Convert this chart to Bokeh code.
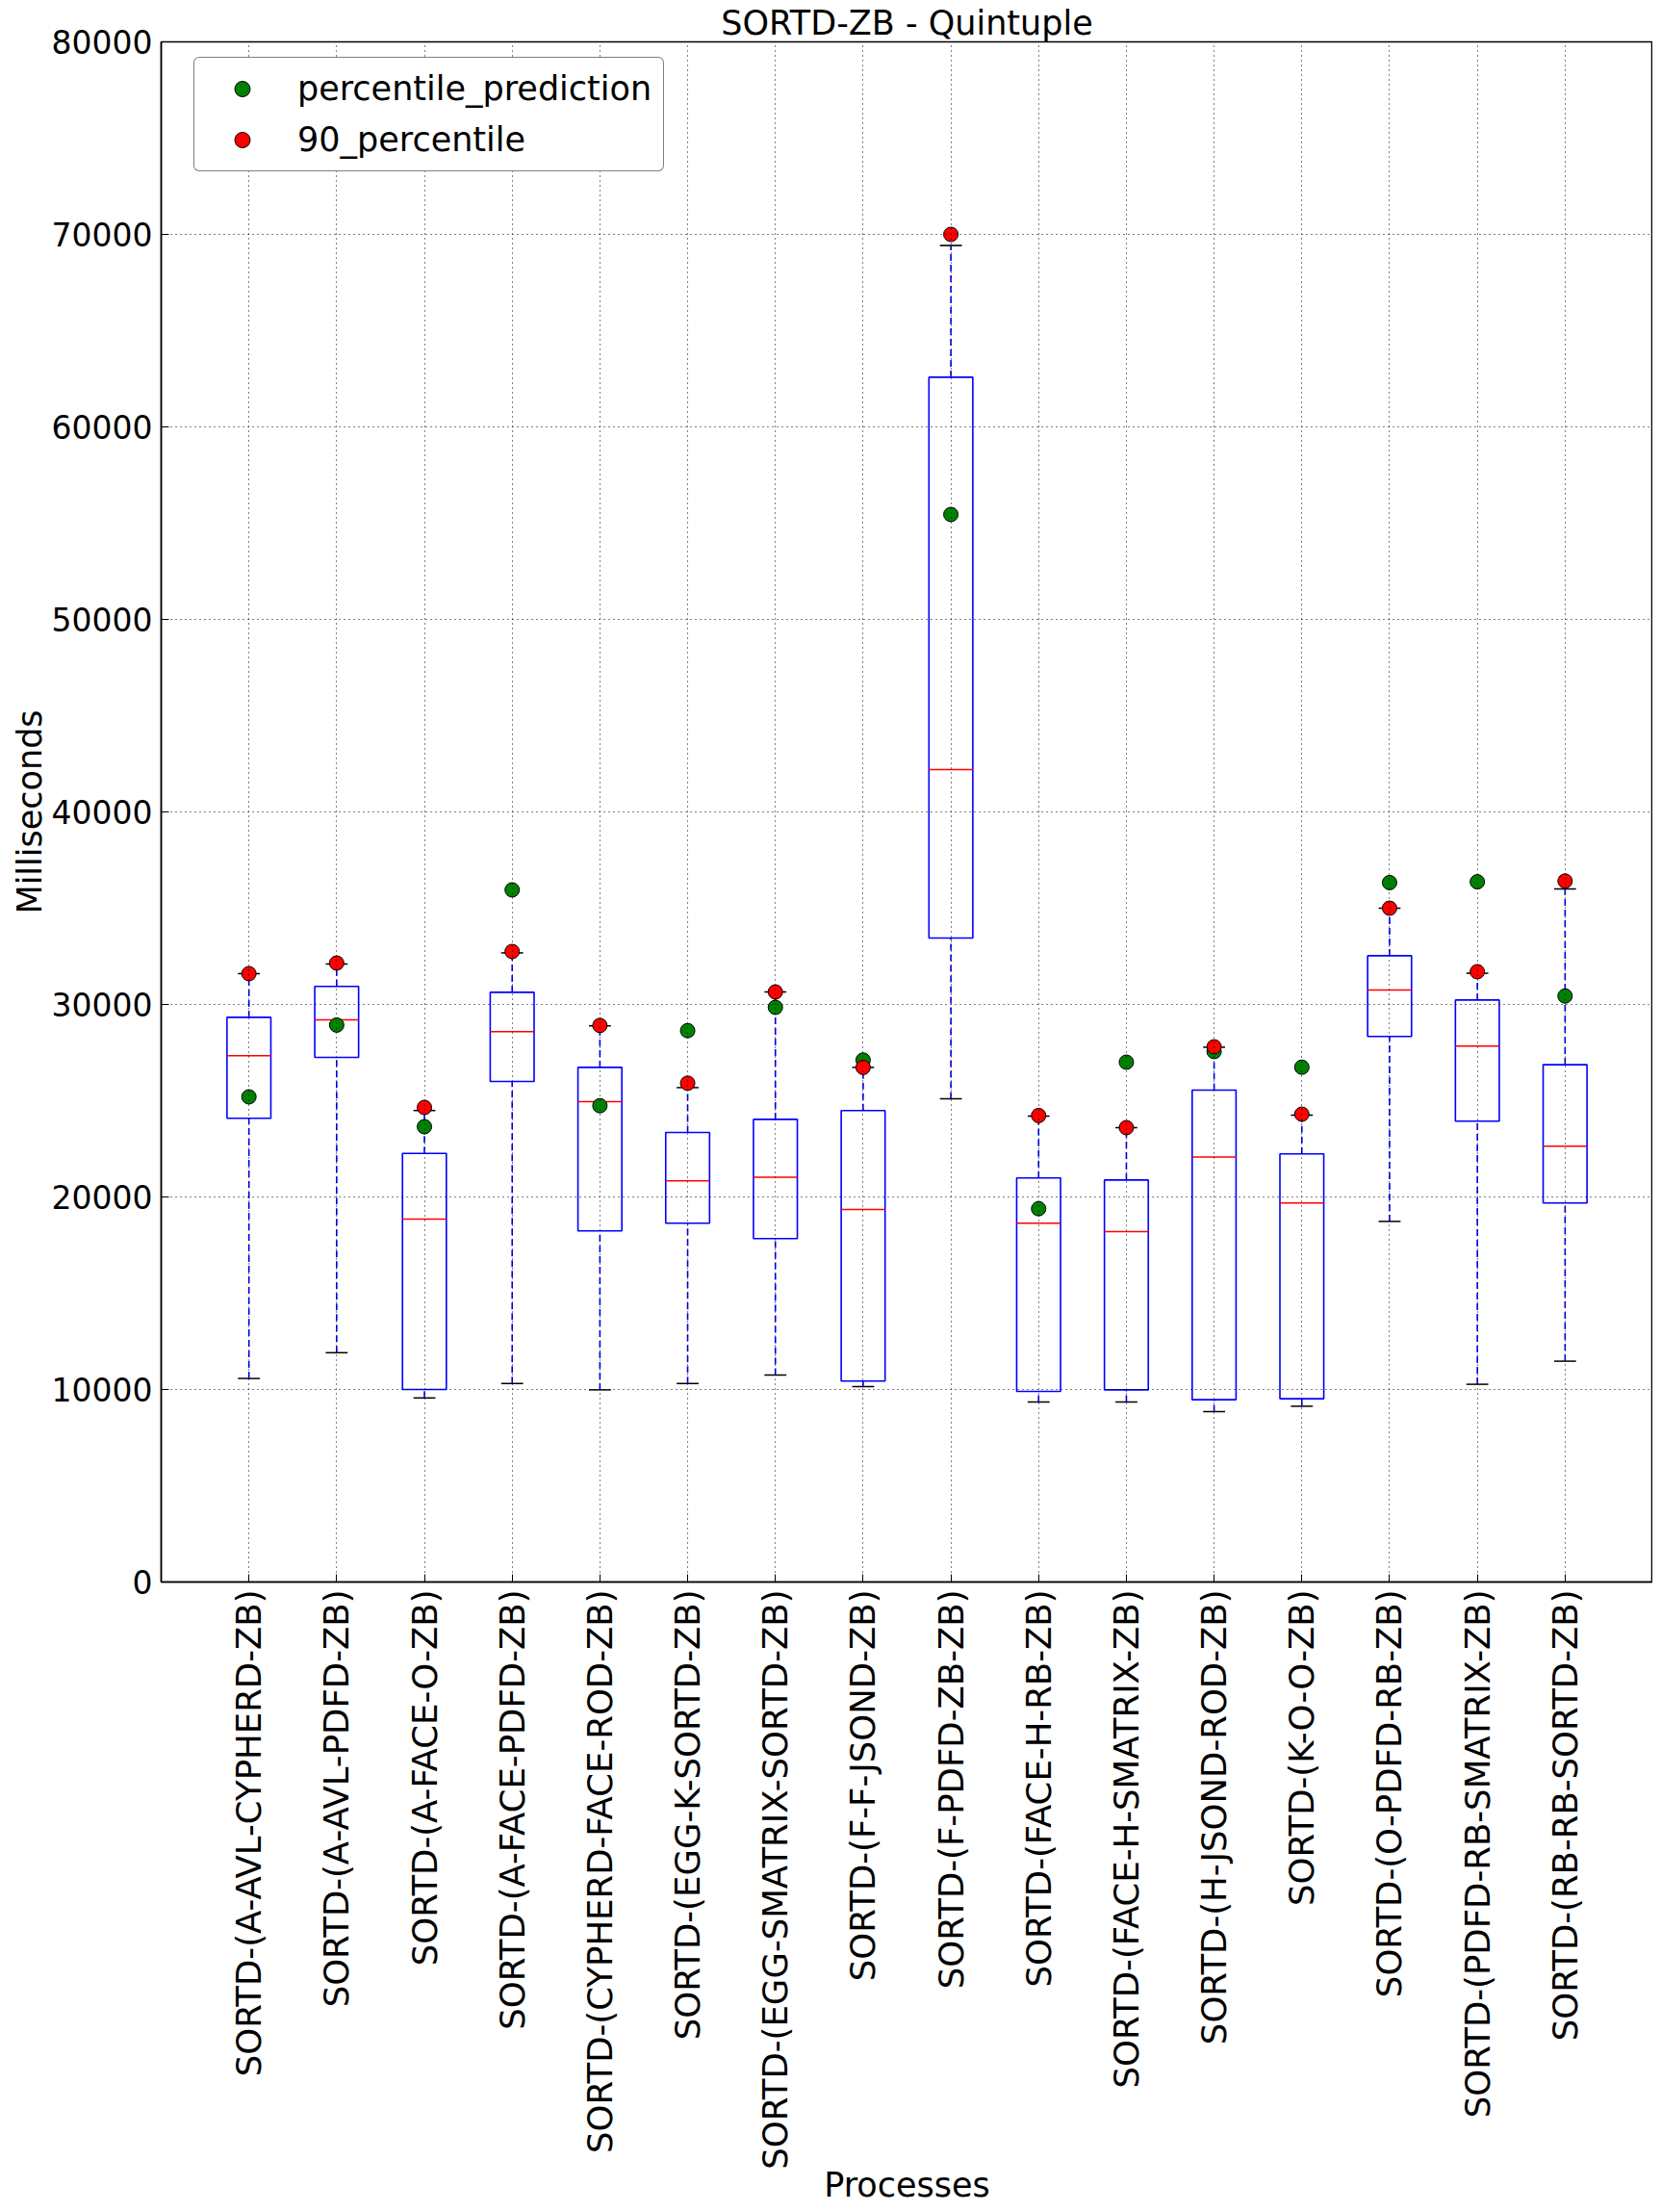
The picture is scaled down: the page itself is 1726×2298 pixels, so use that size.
import numpy as np
from bokeh.plotting import figure
from bokeh.models import (Range1d, FixedTicker, Legend, LegendItem, ColumnDataSource,
                          NumeralTickFormatter)
from bokeh.embed import file_html
from bokeh.resources import INLINE

# ---------------- data ----------------
labels = [
    "SORTD-(A-AVL-CYPHERD-ZB)", "SORTD-(A-AVL-PDFD-ZB)", "SORTD-(A-FACE-O-ZB)",
    "SORTD-(A-FACE-PDFD-ZB)", "SORTD-(CYPHERD-FACE-ROD-ZB)", "SORTD-(EGG-K-SORTD-ZB)",
    "SORTD-(EGG-SMATRIX-SORTD-ZB)", "SORTD-(F-F-JSOND-ZB)", "SORTD-(F-PDFD-ZB-ZB)",
    "SORTD-(FACE-H-RB-ZB)", "SORTD-(FACE-H-SMATRIX-ZB)", "SORTD-(H-JSOND-ROD-ZB)",
    "SORTD-(K-O-O-ZB)", "SORTD-(O-PDFD-RB-ZB)", "SORTD-(PDFD-RB-SMATRIX-ZB)",
    "SORTD-(RB-RB-SORTD-ZB)",
]
whisker_low = [10570, 11910, 9560, 10310, 9980, 10310, 10750, 10150, 25100, 9350, 9350, 8850, 9130, 18730, 10270, 11470]
q1 = [24090, 27250, 10000, 26000, 18240, 18640, 17840, 10440, 33450, 9900, 9980, 9470, 9520, 28340, 23940, 19690]
median = [27340, 29200, 18850, 28590, 24950, 20840, 21030, 19350, 42200, 18640, 18200, 22080, 19690, 30750, 27840, 22640]
q3 = [29330, 30940, 22260, 30630, 26730, 23350, 24030, 24490, 62580, 20990, 20880, 25550, 22240, 32530, 30230, 26870]
whisker_high = [31600, 32100, 24490, 32680, 28890, 25680, 30650, 26730, 69420, 24200, 23600, 27780, 24250, 35000, 31620, 36000]
p90 = [31600, 32150, 24650, 32750, 28910, 25910, 30650, 26730, 70000, 24230, 23600, 27800, 24300, 35000, 31700, 36410]
prediction = [25200, 28930, 23650, 35950, 24740, 28640, 29850, 27110, 55450, 19390, 27000, 27550, 26740, 36330, 36370, 30440]
y_ticks = [0, 10000, 20000, 30000, 40000, 50000, 60000, 70000, 80000]
title_text = "SORTD-ZB - Quintuple"
x_label = "Processes"
y_label = "Milliseconds"

# ---------------- style ----------------
FONT = "DejaVu Sans"
BOX_W = 0.5
CAP_W = 0.25
FRAME_W = 1550
FRAME_H = 1600

n = len(labels)
pos = np.arange(1, n + 1)

src = ColumnDataSource(dict(
    x=pos,
    left=pos - BOX_W / 2, right=pos + BOX_W / 2,
    cl=pos - CAP_W / 2, cr=pos + CAP_W / 2,
    wlo=whisker_low, q1=q1, med=median, q3=q3, whi=whisker_high,
    p90=p90, pred=prediction,
))

p = figure(frame_width=FRAME_W, frame_height=FRAME_H, output_backend="svg", toolbar_location=None,
           x_range=Range1d(0, n + 1), y_range=Range1d(0, 80000),
           min_border_left=167, min_border_right=0, min_border_top=43,
           min_border_bottom=640, background_fill_color="white",
           border_fill_color="white")

p.title.text = title_text
p.title.text_font = FONT
p.title.text_font_size = "35px"
p.title.text_font_style = "normal"
p.title.text_color = "black"
p.title.align = "center"
p.title.standoff = 0
p.title.offset = 0

p.outline_line_color = "black"
p.outline_line_width = 1.5

# axes
p.xaxis.ticker = FixedTicker(ticks=list(pos))
p.xaxis.major_label_overrides = {int(i): lab for i, lab in zip(pos, labels)}
p.xaxis.major_label_orientation = np.pi / 2
p.yaxis.ticker = FixedTicker(ticks=y_ticks)
p.yaxis.formatter = NumeralTickFormatter(format="0")
for ax in (p.xaxis, p.yaxis):
    ax.major_label_text_font = FONT
    ax.major_label_text_color = "black"
    ax.axis_label_text_font = FONT
    ax.axis_label_text_font_size = "35px"
    ax.axis_label_text_font_style = "normal"
    ax.axis_label_text_color = "black"
    ax.major_tick_in = 8
    ax.major_tick_out = 0
    ax.minor_tick_line_color = None
    ax.axis_line_color = "black"
    ax.axis_line_width = 1.5
    ax.major_tick_line_color = "black"
p.xaxis.major_label_text_font_size = "35.5px"
p.yaxis.major_label_text_font_size = "33px"
p.xaxis.axis_label = x_label
p.yaxis.axis_label = y_label
p.xaxis.major_label_standoff = 8
p.yaxis.major_label_standoff = 9
p.xaxis.axis_label_standoff = -7
p.yaxis.axis_label_standoff = 0

# grid
p.grid.grid_line_color = "black"
p.grid.grid_line_alpha = 1.0
p.grid.grid_line_width = 1
p.grid.grid_line_dash = "1 4"
p.grid.level = "guide"

# boxes
p.segment(x0="x", y0="q3", x1="x", y1="whi", source=src, line_color="blue", line_width=1.6, line_dash="7 4")
p.segment(x0="x", y0="wlo", x1="x", y1="q1", source=src, line_color="blue", line_width=1.6, line_dash="7 4")
p.quad(left="left", right="right", bottom="q1", top="q3", source=src,
       fill_color=None, line_color="blue", line_width=1.6)
p.segment(x0="left", y0="med", x1="right", y1="med", source=src, line_color="red", line_width=1.5)
p.segment(x0="cl", y0="whi", x1="cr", y1="whi", source=src, line_color="black", line_width=1.5)
p.segment(x0="cl", y0="wlo", x1="cr", y1="wlo", source=src, line_color="black", line_width=1.5)

r_pred = p.scatter(x="x", y="pred", source=src, size=15, fill_color="#008000", line_color="black", line_width=1)
r_p90 = p.scatter(x="x", y="p90", source=src, size=15, fill_color="#ff0000", line_color="black", line_width=1)

LEG_H = 117
legend = Legend(items=[LegendItem(label="percentile_prediction", renderers=[r_pred]),
                       LegendItem(label="90_percentile", renderers=[r_p90])],
                location=(34, FRAME_H - 18 - LEG_H), orientation="vertical")
legend.label_text_font = FONT
legend.label_text_font_size = "35px"
legend.label_text_color = "black"
legend.padding = 12
legend.spacing = 13
legend.margin = 0
legend.glyph_width = 75
legend.glyph_height = 40
legend.label_height = 40
legend.label_standoff = 20
legend.border_line_color = "black"
legend.border_line_width = 1.5
legend.background_fill_color = "white"
legend.background_fill_alpha = 1.0
if "border_radius" in Legend.properties():
    legend.border_radius = 6
p.add_layout(legend)

open("out.html", "w").write(file_html(p, INLINE))
